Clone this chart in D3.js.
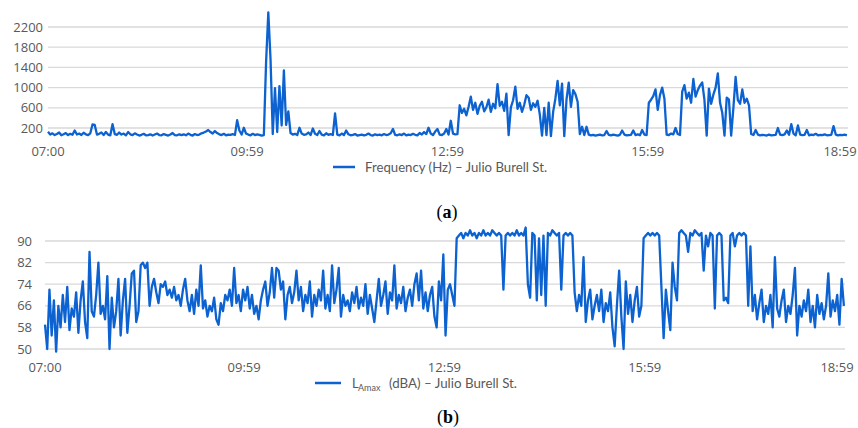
<!DOCTYPE html>
<html lang="en">
<head>
    <meta charset="UTF-8">
    <title>Frequency and LAmax – Julio Burell St.</title>
    <script src="https://cdnjs.cloudflare.com/ajax/libs/d3/7.8.5/d3.min.js"></script>
    <style>
        body {
            margin: 0;
            padding: 0;
            background-color: #fff;
        }
        .grid line {
            stroke: #d9d9d9;
            stroke-width: 1.3px;
        }
        .tick-label {
            font: 13px "Open Sans", sans-serif;
            fill: #595959;
        }
        .legend-text {
            font: 13px Lato, "Open Sans", sans-serif;
            fill: #595959;
        }
        .series {
            fill: none;
            stroke: #0b62d0;
            stroke-width: 2.3px;
            stroke-linejoin: round;
        }
        .panel-label {
            font: 18px "Liberation Serif", "Times New Roman", serif;
            fill: #000;
        }
    </style>
</head>
<body>
<script>
// one sample every 2 minutes, 07:00 -> 18:58
const stepMin = 2;

const timeTicks = [0, 179, 359, 539, 719];
const timeLabels = ["07:00", "09:59", "12:59", "15:59", "18:59"];

const freqTicks = [200, 600, 1000, 1400, 1800, 2200];
const lamaxTicks = [50, 58, 66, 74, 82, 90];

// Frequency (Hz), one row per hour
const freqHz = [
    125, 70, 95, 60, 80, 110, 55, 75, 100, 60, 85, 65, 150, 70, 90, 60, 105, 75, 60, 95, 270, 260, 70, 85, 110, 60, 120, 70, 55, 275,
    80, 65, 110, 70, 90, 55, 120, 75, 60, 95, 70, 50, 65, 85, 55, 60, 75, 50, 70, 90, 60, 55, 80, 65, 50, 70, 100, 60, 55, 75,
    60, 75, 55, 90, 65, 50, 80, 60, 70, 95, 110, 130, 160, 120, 90, 140, 100, 75, 60, 85, 55, 70, 65, 80, 60, 355, 150, 70, 205, 90,
    70, 55, 85, 60, 75, 65, 50, 60, 1500, 2490, 1560, 80, 990, 120, 1030, 250, 1340, 260, 530, 100, 70, 85, 60, 205, 90, 65, 75, 110, 60, 190,
    85, 60, 140, 70, 55, 95, 65, 80, 60, 490, 70, 55, 90, 60, 150, 75, 55, 65, 80, 50, 60, 70, 55, 65, 90, 60, 50, 75, 60, 70,
    55, 80, 60, 70, 95, 180, 65, 55, 75, 60, 90, 55, 70, 60, 85, 65, 55, 100, 70, 120, 80, 205, 90, 60, 130, 180, 70, 60, 90, 180,
    70, 343, 90, 75, 80, 650, 500, 580, 450, 620, 820, 560, 700, 480, 640, 720, 530, 610, 760, 520, 680, 590, 1070, 640, 720, 540, 880, 60, 610, 750,
    1020, 580, 700, 520, 660, 850, 800, 560, 690, 620, 740, 470, 50, 600, 60, 700, 40, 520, 780, 1135, 650, 1080, 40, 760, 1100, 620, 950, 870, 720, 80,
    225, 60, 225, 70, 55, 65, 50, 60, 70, 55, 60, 140, 65, 55, 70, 60, 50, 65, 150, 70, 55, 60, 65, 150, 60, 75, 55, 160, 70, 60,
    700, 760, 830, 965, 560, 850, 1000, 780, 70, 60, 90, 75, 200, 80, 60, 920, 1050, 780, 900, 700, 1170, 820, 950, 1040, 1100, 750, 50, 980, 680, 860,
    1000, 1280, 700, 500, 50, 800, 760, 50, 600, 1210, 750, 680, 965, 700, 780, 650, 80, 60, 160, 70, 55, 65, 60, 50, 70, 55, 60, 65, 200, 70,
    60, 75, 150, 65, 277, 90, 55, 250, 70, 60, 65, 160, 55, 70, 60, 85, 55, 65, 60, 75, 55, 60, 65, 238, 70, 55, 65, 60, 70, 55
];

// LAmax (dBA), one row per hour
const lamaxDb = [
    59, 50, 72, 55, 68, 49, 66, 58, 70, 60, 73, 57, 65, 62, 71, 56, 68, 75, 60, 54, 86, 64, 62, 70, 82, 63, 66, 61, 77, 50,
    69, 58, 64, 76, 55, 68, 76, 56, 66, 78, 79, 60, 64, 81, 82, 80, 82, 66, 73, 76, 71, 67, 74, 73, 75, 70, 72, 69, 73, 68,
    70, 66, 72, 76, 68, 64, 70, 63, 72, 66, 81, 65, 68, 62, 66, 64, 69, 61, 59, 67, 64, 70, 68, 72, 66, 80, 67, 70, 64, 72,
    68, 73, 65, 70, 63, 66, 61, 68, 72, 75, 66, 71, 80, 69, 80, 79, 72, 75, 61, 70, 73, 67, 71, 79, 68, 73, 64, 70, 67, 75,
    62, 70, 66, 72, 68, 79, 65, 70, 64, 81, 67, 72, 80, 62, 70, 66, 68, 64, 71, 67, 73, 65, 69, 66, 74, 63, 70, 65, 60, 68,
    76, 66, 70, 75, 63, 71, 68, 81, 65, 70, 67, 73, 64, 69, 72, 66, 74, 78, 68, 79, 65, 71, 64, 70, 73, 62, 58, 75, 68, 85,
    55, 72, 74, 70, 66, 91, 92, 93, 91, 93, 92, 94, 92, 93, 91, 93, 92, 94, 92, 93, 92, 94, 93, 92, 93, 92, 72, 92, 93, 92,
    93, 92, 94, 92, 93, 92, 95, 74, 69, 93, 92, 68, 91, 70, 92, 66, 93, 92, 94, 93, 92, 93, 72, 92, 93, 92, 93, 92, 71, 64,
    70, 66, 84, 60, 68, 72, 61, 66, 70, 64, 72, 60, 67, 64, 71, 58, 51, 66, 79, 62, 50, 75, 63, 70, 60, 68, 73, 62, 66, 91,
    92, 93, 92, 93, 92, 93, 92, 73, 54, 72, 64, 57, 82, 73, 68, 93, 94, 93, 92, 86, 93, 92, 94, 93, 92, 93, 79, 92, 88, 93,
    92, 65, 92, 93, 92, 68, 69, 67, 92, 93, 88, 92, 93, 92, 93, 92, 66, 88, 64, 70, 61, 67, 72, 60, 66, 63, 70, 58, 84, 65,
    62, 68, 72, 60, 66, 63, 70, 80, 55, 66, 62, 68, 64, 72, 60, 66, 58, 70, 63, 67, 61, 66, 78, 62, 68, 64, 70, 59, 76, 66
];

const svg = d3.select("body").append("svg")
    .attr("width", 858)
    .attr("height", 428);

function drawPanel(cfg) {
    const x = d3.scaleLinear().domain([0, 719]).range([cfg.left, cfg.right]);
    const y = d3.scaleLinear()
        .domain([cfg.ticks[0], cfg.ticks[cfg.ticks.length - 1]])
        .range([cfg.bottom, cfg.top]);

    const g = svg.append("g");

    // horizontal gridlines
    g.append("g").attr("class", "grid")
        .selectAll("line")
        .data(cfg.ticks)
        .enter().append("line")
        .attr("x1", cfg.left)
        .attr("x2", cfg.right)
        .attr("y1", d => y(d))
        .attr("y2", d => y(d));

    // y labels
    g.selectAll(".ylab")
        .data(cfg.ticks)
        .enter().append("text")
        .attr("class", "tick-label")
        .attr("x", cfg.yLabelX)
        .attr("y", d => y(d))
        .attr("dy", "0.35em")
        .style("text-anchor", "end")
        .text(d => d);

    // x labels (last one pulled in so it fits the frame)
    g.selectAll(".xlab")
        .data(timeTicks)
        .enter().append("text")
        .attr("class", "tick-label")
        .attr("x", (d, i) => x(d) - (i === timeTicks.length - 1 ? 8 : 0))
        .attr("y", cfg.xLabelY)
        .attr("dy", "0.35em")
        .style("text-anchor", "middle")
        .text((d, i) => timeLabels[i]);

    const line = d3.line()
        .x((d, i) => x(i * stepMin))
        .y(d => y(d));

    g.append("path")
        .datum(cfg.values)
        .attr("class", "series")
        .attr("d", line);

    return g;
}

// (a) frequency
drawPanel({
    values: freqHz, ticks: freqTicks,
    left: 48, right: 848, top: 27, bottom: 128,
    yLabelX: 43, xLabelY: 151
});

svg.append("line")
    .attr("x1", 333).attr("x2", 355)
    .attr("y1", 167).attr("y2", 167)
    .attr("stroke", "#0b62d0").attr("stroke-width", 2.5);
svg.append("text")
    .attr("class", "legend-text")
    .attr("x", 365).attr("y", 167).attr("dy", "0.35em")
    .attr("textLength", 182).attr("lengthAdjust", "spacingAndGlyphs")
    .text("Frequency (Hz) – Julio Burell St.");

const la = svg.append("text").attr("class", "panel-label")
    .attr("x", 447).attr("y", 218).style("text-anchor", "middle");
la.append("tspan").text("(");
la.append("tspan").attr("font-weight", "bold").text("a");
la.append("tspan").text(")");

// (b) LAmax
drawPanel({
    values: lamaxDb, ticks: lamaxTicks,
    left: 45, right: 845, top: 241, bottom: 349,
    yLabelX: 32, xLabelY: 367
});

svg.append("line")
    .attr("x1", 315).attr("x2", 341)
    .attr("y1", 383).attr("y2", 383)
    .attr("stroke", "#0b62d0").attr("stroke-width", 2.5);
svg.append("text")
    .attr("class", "legend-text")
    .attr("x", 352).attr("y", 383).attr("dy", "0.35em")
    .text("L");
svg.append("text")
    .attr("class", "legend-text")
    .style("font-size", "9px")
    .attr("x", 358).attr("y", 388).attr("dy", "0.35em")
    .text("Amax");
svg.append("text")
    .attr("class", "legend-text")
    .attr("x", 389).attr("y", 383).attr("dy", "0.35em")
    .attr("textLength", 128).attr("lengthAdjust", "spacingAndGlyphs")
    .text("(dBA) – Julio Burell St.");

const lb = svg.append("text").attr("class", "panel-label")
    .attr("x", 448).attr("y", 423).style("text-anchor", "middle");
lb.append("tspan").text("(");
lb.append("tspan").attr("font-weight", "bold").text("b");
lb.append("tspan").text(")");
</script>
</body>
</html>
